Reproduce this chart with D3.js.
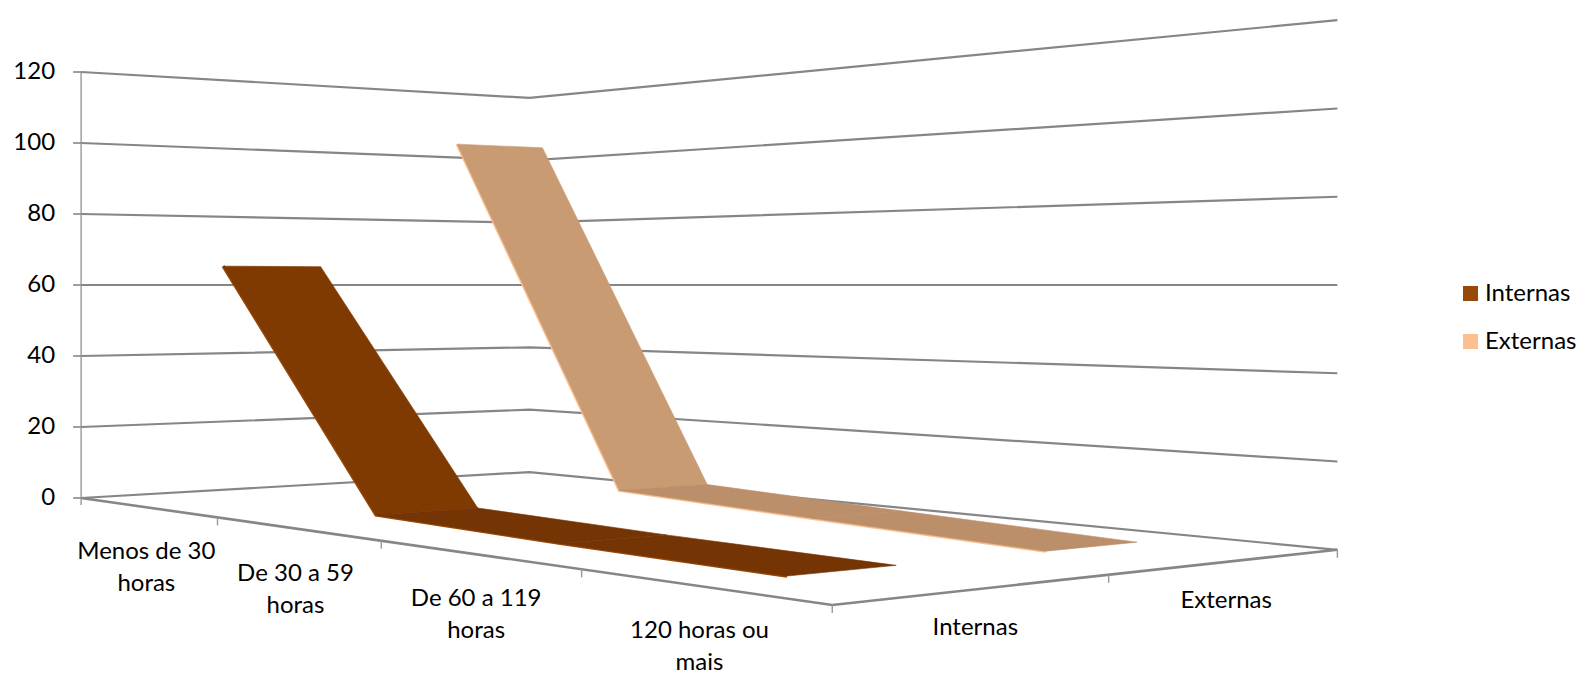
<!DOCTYPE html>
<html><head><meta charset="utf-8">
<script src="https://cdnjs.cloudflare.com/ajax/libs/d3/7.8.5/d3.min.js"></script>
<style>html,body{margin:0;padding:0;background:#fff}svg{display:block}text{font-family:Lato,"Open Sans",sans-serif;fill:#000}</style>
</head><body><svg id="c" width="1581" height="675"></svg>
<script>
const categories = [["Menos de 30","horas"],["De 30 a 59","horas"],["De 60 a 119","horas"],["120 horas ou","mais"]];
const seriesNames = ["Internas","Externas"];
const internas = [65.2, 2, 0.9, 0.3];
const externas = [101.6, 4.2, 2.1, 0.2];
const valueTicks = [0,20,40,60,80,100,120];

const FONT = 24;
const svg = d3.select("#c");

// Perspective camera: floor position (u along categories, w along series), height v
const uScale = d3.scaleLinear().domain([0,categories.length]).range([0,1]);
const wScale = d3.scaleLinear().domain([0,seriesNames.length]).range([0,1]);
const heightScale = d3.scaleLinear().domain([0,120]).range([60,-60]);
const depth = (a,b)=>0.2817 - 0.0942*a + 0.0391*b;
const lateral = (a,b)=>22.85 + 133.2*a + 147.0*b;
const horizonY = 285;
function project(u,w,v){
  const a=uScale(u), b=wScale(w), z=depth(a,b);
  return [lateral(a,b)/z, horizonY + heightScale(v)/z];
}
const line = d3.line();
const GRID="#868686";

function seg(pts,sw,color){
  svg.append("path").attr("d",line(pts)).attr("fill","none").attr("stroke",color||GRID).attr("stroke-width",sw||2);
}

// walls
valueTicks.forEach(v=>{
  if(v===0) return;
  seg([project(0,0,v),project(0,2,v),project(4,2,v)],2.2);
});
// floor
seg([project(0,0,0),project(0,2,0),project(4,2,0)],2.2);
seg([project(0,0,0),project(4,0,0),project(4,2,0)],2.6);

// value axis
const left = project(0,0,0);
seg([project(0,0,120),[left[0],left[1]+7]],1.4,"#999");
valueTicks.forEach(v=>{
  const p=project(0,0,v);
  seg([[p[0]-8,p[1]],p],1.6);
  svg.append("text").attr("x",p[0]-26).attr("y",p[1]+7).attr("text-anchor","end").attr("font-size",FONT).text(v);
});

// ticks
d3.range(1,categories.length+1).forEach(i=>{const p=project(i,0,0);seg([p,[p[0],p[1]+8]],1.4,"#999");});
d3.range(1,seriesNames.length+1).forEach(i=>{const p=project(categories.length,i,0);seg([p,[p[0],p[1]+8]],1.4,"#999");});

// ribbons
const ribbons=[
 {vals:externas,w:1,steep:"#C99B73",flat:"#BC8F6B",edge:"#FCBF8F"},
 {vals:internas,w:0,steep:"#7F3A02",flat:"#743403",edge:"#984807"}
];
const band=[0.3,0.7];
ribbons.forEach(r=>{
  const w0=r.w+band[0], w1=r.w+band[1];
  const P=(i,w)=>project(i+0.5,w,r.vals[i]);
  seg(r.vals.map((_,i)=>P(i,w0)),3.4,r.edge);
  d3.range(r.vals.length-1).forEach(i=>{
    const poly=[P(i,w0),P(i+1,w0),P(i+1,w1),P(i,w1)];
    const c=i===0?r.steep:r.flat;
    svg.append("path").attr("d",line(poly)+"Z").attr("fill",c).attr("stroke",c).attr("stroke-width",0.6);
  });
});

// category labels
categories.forEach((lines,i)=>{
  const p=project(i+0.5,0,0);
  lines.forEach((t,j)=>svg.append("text").attr("x",p[0]).attr("y",p[1]+52+j*32).attr("text-anchor","middle").attr("font-size",FONT).text(t));
});
// series labels
seriesNames.forEach((t,i)=>{
  const p=project(categories.length,i+0.5,0);
  svg.append("text").attr("x",p[0]-2).attr("y",p[1]+46).attr("text-anchor","middle").attr("font-size",FONT).text(t);
});
// legend
const legendColors=["#984807","#FCBF8F"];
const legendY=d3.scalePoint().domain(seriesNames).range([293.5,341.5]);
seriesNames.forEach((t,i)=>{
  const y=legendY(t);
  svg.append("rect").attr("x",1463).attr("y",y-7.5).attr("width",15).attr("height",15).attr("fill",legendColors[i]);
  svg.append("text").attr("x",1485).attr("y",y+7.5).attr("font-size",FONT).text(t);
});
</script></body></html>
